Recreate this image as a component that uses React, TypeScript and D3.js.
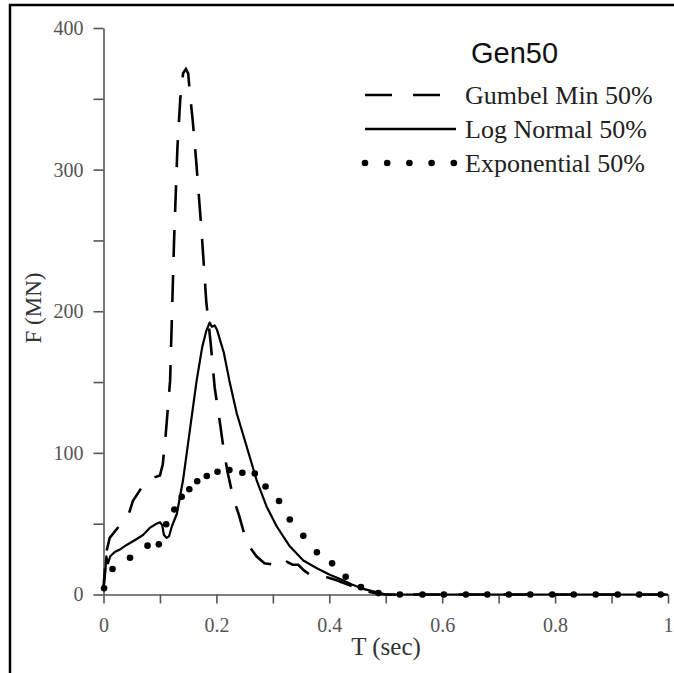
import React, { useRef, useEffect } from 'react';
import * as d3 from 'd3';

// series values: [T (sec), F (MN)]
const gumbelMin: [number, number][] = [
  [0, 5], [0.005, 30], [0.011, 40], [0.027, 48], [0.045, 57], [0.052, 66], [0.07, 77],
  [0.085, 82], [0.1, 84], [0.105, 92], [0.11, 112], [0.118, 151], [0.125, 250],
  [0.131, 316], [0.136, 350], [0.141, 368], [0.146, 371], [0.15, 368], [0.153, 354],
  [0.158, 335], [0.164, 307], [0.174, 255], [0.182, 207], [0.19, 177], [0.197, 146],
  [0.206, 122], [0.213, 102], [0.22, 86], [0.23, 68], [0.24, 56], [0.25, 42],
  [0.26, 33], [0.271, 27], [0.285, 22], [0.304, 21], [0.315, 19], [0.325, 23],
  [0.335, 21], [0.345, 21], [0.355, 17], [0.369, 13], [0.39, 13], [0.413, 10],
  [0.44, 6], [0.46, 3], [0.48, 1], [0.5, 0], [1, 0],
];

const logNormal: [number, number][] = [
  [0, 4], [0.003, 15], [0.005, 27], [0.008, 22], [0.012, 27], [0.02, 30], [0.03, 32],
  [0.041, 35], [0.056, 38.5], [0.07, 42], [0.082, 47], [0.094, 50], [0.1, 51],
  [0.104, 49], [0.107, 42], [0.112, 40], [0.116, 41], [0.121, 48], [0.13, 57],
  [0.141, 81], [0.153, 116], [0.165, 151], [0.175, 175], [0.182, 186], [0.188, 192],
  [0.192, 189], [0.197, 190], [0.201, 187], [0.213, 171], [0.223, 151], [0.236, 128],
  [0.254, 104], [0.271, 81], [0.289, 62], [0.307, 48], [0.33, 34], [0.354, 24],
  [0.378, 18.5], [0.401, 14], [0.419, 11], [0.44, 7], [0.46, 4], [0.49, 1], [0.5, 0],
  [1, 0],
];

// the dotted curve, one entry per dot
const exponential: [number, number][] = [
  [0.001, 4.4], [0.016, 18], [0.047, 26], [0.078, 34.5], [0.098, 35.4], [0.111, 49.6],
  [0.1255, 60], [0.1385, 69], [0.152, 74.3], [0.166, 80], [0.183, 83.7], [0.202, 86.7],
  [0.223, 87.9], [0.246, 86], [0.268, 85.4], [0.287, 76.3], [0.311, 66], [0.33, 53],
  [0.354, 41.5], [0.378, 29.8], [0.405, 22], [0.429, 12.5], [0.456, 5.2], [0.487, 1],
  [0.525, 0], [0.565, 0], [0.603, 0], [0.642, 0], [0.68, 0], [0.718, 0], [0.756, 0],
  [0.795, 0], [0.833, 0], [0.872, 0], [0.911, 0], [0.949, 0], [0.987, 0],
];

const xTicks = [0, 0.1, 0.2, 0.3, 0.4, 0.5, 0.6, 0.7, 0.8, 0.9, 1];
const yTicks = [0, 50, 100, 150, 200, 250, 300, 350, 400];
const legendLabels = ['Gumbel Min 50%', 'Log Normal 50%', 'Exponential 50%'];
const chartTitle = 'Gen50';

export default function App() {
  const ref = useRef<SVGSVGElement>(null);

  useEffect(() => {
    const svg = d3.select(ref.current);
    svg.selectAll('*').remove();

    const width = 674, height = 673;
    const x = d3.scaleLinear().domain([0, 1]).range([103.5, 668]);
    const y = d3.scaleLinear().domain([0, 400]).range([594.5, 28]);
    const serif = '"Liberation Serif", "Times New Roman", serif';

    svg.attr('viewBox', `0 0 ${width} ${height}`);

    svg.append('rect').attr('width', width).attr('height', height).attr('fill', '#fff');

    // frame (only top and left show in the picture)
    svg.append('rect')
      .attr('x', 10).attr('y', 5)
      .attr('width', 720).attr('height', 720)
      .attr('fill', 'none').attr('stroke', '#000').attr('stroke-width', 2.5);

    // y axis
    const yAxis = svg.append('g')
      .attr('transform', `translate(${x(0)},0)`)
      .call(d3.axisLeft(y).tickValues(yTicks).tickSize(10).tickSizeOuter(0).tickPadding(10)
        .tickFormat(d => (+d % 100 === 0 ? String(d) : '')));

    // x axis
    const xAxis = svg.append('g')
      .attr('transform', `translate(0,${y(0)})`)
      .call(d3.axisBottom(x).tickValues(xTicks).tickSize(9).tickSizeOuter(0).tickPadding(14.5)
        .tickFormat(d => (Math.round(+d * 10) % 2 === 0 ? d3.format('~g')(+d) : '')));

    [yAxis, xAxis].forEach(a => {
      a.select('.domain').attr('stroke', '#555').attr('stroke-width', 1.6);
      a.selectAll('.tick line').attr('stroke', '#555').attr('stroke-width', 1.6);
      a.selectAll('.tick text')
        .attr('fill', '#555')
        .style('font-family', serif)
        .style('font-size', '20px');
    });

    // axis titles
    svg.append('text')
      .attr('x', 386).attr('y', 655)
      .attr('text-anchor', 'middle')
      .style('font-family', serif).style('font-size', '25px').attr('fill', '#333')
      .text('T (sec)');

    svg.append('text')
      .attr('transform', 'translate(41,308) rotate(-90)')
      .attr('text-anchor', 'middle')
      .style('font-family', serif).style('font-size', '23px').attr('fill', '#333')
      .text('F (MN)');

    const line = d3.line<[number, number]>()
      .x(d => x(d[0]))
      .y(d => y(d[1]));

    // gumbel (dashed)
    svg.append('path')
      .attr('d', line(gumbelMin))
      .attr('fill', 'none').attr('stroke', '#000').attr('stroke-width', 2.6)
      .attr('stroke-dasharray', '27 18').attr('stroke-dashoffset', 8);

    // log normal (solid)
    svg.append('path')
      .attr('d', line(logNormal))
      .attr('fill', 'none').attr('stroke', '#000').attr('stroke-width', 2.2)
      .attr('stroke-linejoin', 'round');

    // exponential (dots)
    svg.append('g')
      .selectAll('circle')
      .data(exponential)
      .enter()
      .append('circle')
        .attr('cx', d => x(d[0]))
        .attr('cy', d => y(d[1]))
        .attr('r', 3.3)
        .attr('fill', '#000');

    // title + legend
    svg.append('text')
      .attr('x', 471).attr('y', 63)
      .style('font-family', '"Liberation Sans", Arial, sans-serif').style('font-size', '29px')
      .attr('fill', '#111')
      .text(chartTitle);

    const lg = svg.append('g');
    const rowY = [95, 129, 163];
    legendLabels.forEach((lab, i) => {
      lg.append('text')
        .attr('x', 465).attr('y', rowY[i] + 8.5)
        .style('font-family', serif).style('font-size', '26px').attr('fill', '#222')
        .text(lab);
    });
    lg.append('line')
      .attr('x1', 365).attr('x2', 441).attr('y1', rowY[0]).attr('y2', rowY[0])
      .attr('stroke', '#000').attr('stroke-width', 2.6).attr('stroke-dasharray', '27 21');
    lg.append('line')
      .attr('x1', 365).attr('x2', 456).attr('y1', rowY[1]).attr('y2', rowY[1])
      .attr('stroke', '#000').attr('stroke-width', 2.6);
    lg.selectAll('.ldot')
      .data([0, 1, 2, 3, 4])
      .enter()
      .append('circle')
        .attr('class', 'ldot')
        .attr('cx', i => 365 + i * 22.2)
        .attr('cy', rowY[2])
        .attr('r', 3.3)
        .attr('fill', '#000');
  }, []);

  return (
    <svg
      ref={ref}
      width={674}
      height={673}
      style={{ position: 'absolute', left: 0, top: 0, display: 'block' }}
    />
  );
}
